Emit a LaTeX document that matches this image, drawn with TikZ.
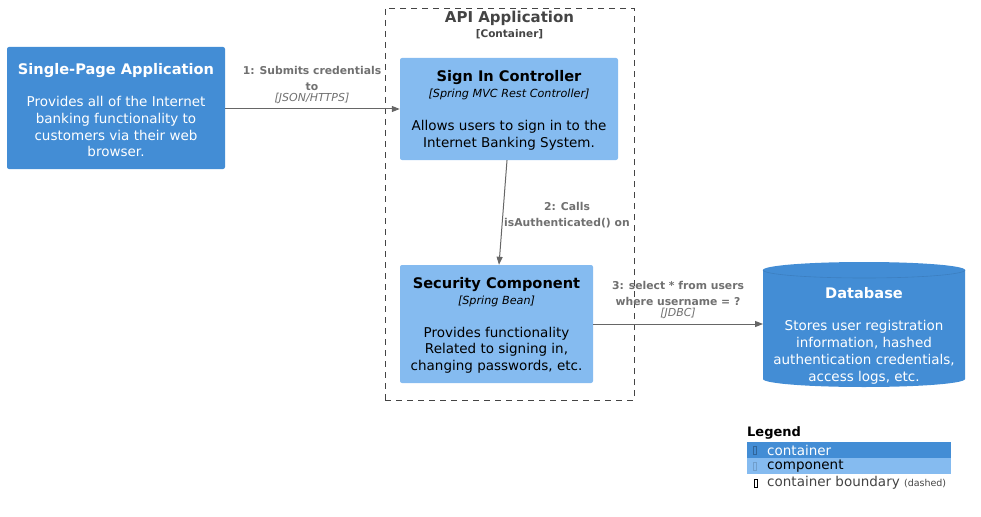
\documentclass[tikz,border=0pt]{standalone}
\usepackage{fontspec}
\setmainfont{DejaVu Sans}
\usetikzlibrary{arrows.meta,calc}
\definecolor{contC}{HTML}{438DD5}
\definecolor{compC}{HTML}{85BBF0}
\definecolor{dbedge}{HTML}{3C7FC0}
\definecolor{lineC}{HTML}{666666}
\definecolor{lblC}{HTML}{707070}
\definecolor{bndC}{HTML}{444444}
\tikzset{
  box/.style={rectangle, rounded corners=2pt, inner sep=0pt, align=center},
  contbox/.style={box, fill=contC, text=white},
  compbox/.style={box, fill=compC, text=black},
  rel/.style={draw=lineC, line width=1pt, -{Triangle[length=8pt,width=6pt]}},
  lbl/.style={text=lblC, font=\fontsize{10.8}{14.2}\selectfont\bfseries, align=center, inner sep=0pt},
  lbli/.style={text=lblC, font=\fontsize{11}{13.5}\selectfont\itshape, align=center, inner sep=0pt},
  desc/.style={font=\fontsize{13.5}{16.7}\selectfont}
}
\newcommand{\ttl}[1]{{\fontsize{14.6}{18}\selectfont\bfseries #1}}
\newcommand{\tech}[1]{{\fontsize{11.2}{14}\selectfont\itshape #1}}
\begin{document}
\begin{tikzpicture}[x=1pt,y=-1pt]
\useasboundingbox (0,0) rectangle (981,516);
% boundary
\node[draw=bndC, dash pattern=on 6pt off 5pt, line width=0.8pt, rectangle, minimum width=249pt, minimum height=392pt, inner sep=0pt] (bnd) at (509.5,204) {};
\node[text=bndC, font=\fontsize{15}{18}\selectfont\bfseries, inner sep=0pt] (bndt) at (509.5,18) {API Application};
\node[text=bndC, font=\fontsize{10.5}{12}\selectfont\bfseries, inner sep=0pt] (bnds) at (509.5,34) {[Container]};
% SPA
\node[contbox, minimum width=218pt, minimum height=122pt, desc] (spa) at (116,108)
 {};
\node[text=white, desc, align=center, inner sep=0pt] (spat) at (116,110)
 {\ttl{Single-Page Application}\\[16pt] Provides all of the Internet\\ banking functionality to\\ customers via their web\\ browser.};
% Sign in
\node[compbox, minimum width=218pt, minimum height=102pt, desc] (sic) at (509,109) {};
\node[desc, align=center, inner sep=0pt] (sict) at (509,110.5)
 {\ttl{Sign In Controller}\\[-1pt] \tech{[Spring MVC Rest Controller]}\\[17pt] Allows users to sign in to the\\ Internet Banking System.};
% Security
\node[compbox, minimum width=193pt, minimum height=118pt, desc] (sec) at (496.5,324) {};
\node[desc, align=center, inner sep=0pt] (sect) at (496.5,325.5)
 {\ttl{Security Component}\\[-1pt] \tech{[Spring Bean]}\\[16pt] Provides functionality\\ Related to signing in,\\ changing passwords, etc.};
% Database
\fill[contC] (763,270) -- (763,379) arc[start angle=180,end angle=360,x radius=101pt,y radius=8pt] -- (965,270) arc[start angle=0,end angle=180,x radius=101pt,y radius=8pt] -- cycle;
\draw[dbedge, line width=0.6pt] (763,270) arc[start angle=180,end angle=360,x radius=101pt,y radius=8pt];
\node[text=white, desc, align=center, inner sep=0pt] (dbt) at (864,335.5)
 {\ttl{Database}\\[16pt] Stores user registration\\ information, hashed\\ authentication credentials,\\ access logs, etc.};
\coordinate (dbin) at (763,324);
% relations
\draw[rel] (spa.east |- 0,109) -- (sic.west |- 0,109);
\node[lbl] (l1) at (312,78.5) {1: Submits credentials\\[1pt] to};
\node[lbli] (l1b) at (312,98) {[JSON/HTTPS]};
\draw[rel] ($(sic.south)+(-2,0)$) -- ($(sec.north)+(2.5,0)$);
\node[lbl] (l2) at (567,215) {2: Calls\\[2pt] isAuthenticated() on};
\draw[rel] (sec.east |- dbin) -- (dbin);
\node[lbl] (l3) at (678,293.5) {3: select * from users\\[1pt] where username = ?};
\node[lbli] (l3b) at (678,313) {[JDBC]};
% legend
\node[anchor=west, inner sep=0pt, font=\fontsize{13}{15}\selectfont\bfseries] (lg) at (747,433) {Legend};
\node[fill=contC, minimum width=204pt, minimum height=16pt, inner sep=0pt, anchor=north west] (lgc) at (747,442) {};
\node[fill=compC, minimum width=204pt, minimum height=16pt, inner sep=0pt, anchor=north west] (lgp) at (747,458) {};
\node[anchor=west, inner sep=0pt, text=white, desc] (lgct) at (767,450) {container};
\node[anchor=west, inner sep=0pt, text=black, desc] (lgpt) at (767,466) {component};
\node[anchor=west, inner sep=0pt, text=bndC, desc] (lgbt) at (767,483) {container boundary {\fontsize{9.5}{11}\selectfont(dashed)}};
\draw[dbedge!80!black, line width=0.4pt] (753.5,446.5) rectangle (756.5,454);
\draw[compC!85!black, line width=0.4pt] (753.5,462.5) rectangle (756.5,470);
\draw[black, line width=0.5pt] (754.5,479) rectangle (757.5,487);
\end{tikzpicture}
\end{document}
